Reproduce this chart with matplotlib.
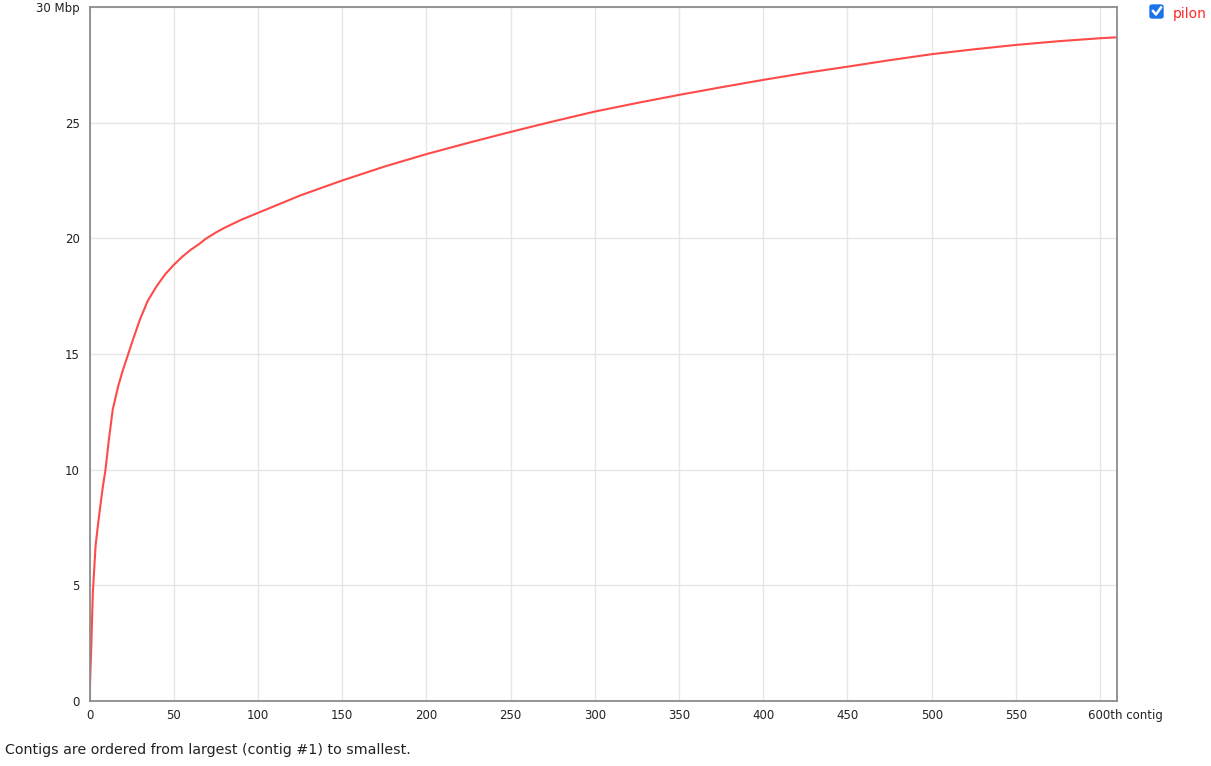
import numpy as np
import matplotlib.pyplot as plt
from matplotlib.patches import FancyBboxPatch
from matplotlib.lines import Line2D

# cumulative length (Mbp) vs contig index
contig_idx = [0, 0.5, 1, 1.5, 2, 3.6, 5, 6.9, 8, 9.5, 11.5, 13.8, 17, 19.8, 23, 25.7, 30,
              34.6, 40, 45, 50, 55, 60, 65, 69.4, 75, 80, 90, 100, 110, 125, 150, 175,
              200, 225, 250, 275, 300, 325, 350, 375, 400, 425, 450, 475, 500, 525,
              550, 575, 600, 610]
cum_len = [0, 1.2, 2.2, 3.5, 4.7, 6.7, 7.6, 8.7, 9.3, 10.0, 11.3, 12.6, 13.6, 14.3, 15.0,
           15.6, 16.5, 17.3, 17.95, 18.45, 18.85, 19.2, 19.5, 19.75, 20.0, 20.25, 20.45,
           20.8, 21.1, 21.4, 21.85, 22.5, 23.1, 23.64, 24.13, 24.6, 25.05, 25.48, 25.85,
           26.2, 26.53, 26.85, 27.15, 27.42, 27.7, 27.96, 28.17, 28.36, 28.52, 28.65,
           28.69]

x_ticks = [0, 50, 100, 150, 200, 250, 300, 350, 400, 450, 500, 550, 600]
y_ticks = [0, 5, 10, 15, 20, 25, 30]
series_name = 'pilon'
caption = 'Contigs are ordered from largest (contig #1) to smallest.'

fig = plt.figure(figsize=(12.11, 7.66), dpi=100)
ax = fig.add_axes([89.5 / 1211, 65 / 766, (1117 - 89.5) / 1211, (701 - 7) / 766])

ax.plot(contig_idx, cum_len, color='#ff4a4a', lw=1.5, solid_joinstyle='round')

ax.set_xlim(0, 610)
ax.set_ylim(0, 30)
ax.set_xticks(x_ticks)
ax.set_yticks(y_ticks)
ax.set_xticklabels([str(t) for t in x_ticks[:-1]] + [''])
ax.set_yticklabels([str(t) for t in y_ticks[:-1]] + ['30 Mbp'])
ax.tick_params(length=0, labelsize=8.5, colors='#222222', pad=6)
ax.tick_params(axis='y', pad=7)

ax.grid(True, color='#e6e6e6', lw=1)
ax.set_axisbelow(True)
for s in ax.spines.values():
    s.set_color('#8c8c8c')
    s.set_linewidth(1.3)

# last x label sits to the right of the 600 gridline
ax.annotate('600th contig', xy=(600, 0), xycoords=('data', 'axes fraction'),
            xytext=(-9, -6), textcoords='offset points', ha='left', va='top',
            fontsize=8.5, color='#222222')

# legend: checkbox + name
box = FancyBboxPatch((1150 / 1211, 1 - 18 / 766), 13 / 1211, 13 / 766,
                     boxstyle='round,pad=0,rounding_size=0.002',
                     transform=fig.transFigure, facecolor='#1a73e8',
                     edgecolor='#1a73e8', lw=1)
fig.patches.append(box)
fig.lines.append(Line2D([1153 / 1211, 1156 / 1211, 1161 / 1211],
                        [1 - 11 / 766, 1 - 14.5 / 766, 1 - 7.5 / 766],
                        transform=fig.transFigure, color='white', lw=1.8))
fig.text(1173 / 1211, 1 - 14 / 766, series_name, color='#ff2a2a', fontsize=10,
         va='center', ha='left')

fig.text(5 / 1211, 1 - 750 / 766, caption, fontsize=10.3, color='#222222',
         va='center', ha='left')

plt.savefig('out.png', dpi=100)
